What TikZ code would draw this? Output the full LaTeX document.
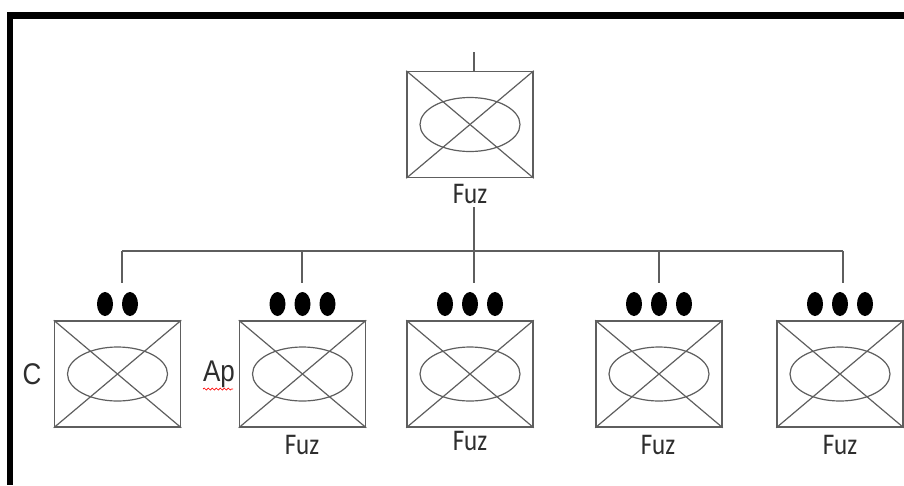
\documentclass[tikz,border=0pt]{standalone}
\usepackage{fontspec}
\setmainfont{Carlito}
\newfontfamily\arialf{Liberation Sans}
\usetikzlibrary{decorations.pathmorphing}
\definecolor{linegray}{HTML}{5E5E5E}
\definecolor{textdark}{HTML}{2E2E2E}
\begin{document}
\begin{tikzpicture}[x=1pt,y=-1pt,
  unitbox/.style={draw=linegray,line width=1.5pt,minimum width=126pt,minimum height=106pt,inner sep=0pt},
  wire/.style={draw=linegray,line width=1.2pt},
  thin/.style={draw=linegray,line width=1.2pt},
  dotmark/.style={fill=black},
  fuzlabel/.style={font=\fontsize{25}{25}\selectfont,text=textdark,inner sep=0pt,yscale=1.2},
  sidelabel/.style={font=\arialf\fontsize{26}{26}\selectfont,text=textdark,inner sep=0pt,yscale=1.15}
]
\useasboundingbox (0,0) rectangle (904,485);
% frame
\fill[black] (6.5,11.5) rectangle (904,18.5);
\fill[black] (6.5,11.5) rectangle (12.5,485);

% top unit
\node[unitbox] (top) at (470,124.5) {};
\node[fuzlabel] (toplbl) at (470,194) {Fuz};
\coordinate (topin) at (474,52);
\coordinate (topinend) at (474,72);
\coordinate (topout) at (474,207);
\coordinate (busmid) at (474,251);

% lower units
\foreach \n/\cx in {1/117.5,2/302.5,3/470,4/659,5/840}{
  \node[unitbox] (b\n) at (\cx,374) {};
}
\node[fuzlabel] (f2) at (302,445) {Fuz};
\node[fuzlabel] (f3) at (470,441) {Fuz};
\node[fuzlabel] (f4) at (658,445) {Fuz};
\node[fuzlabel] (f5) at (840,445) {Fuz};
\node[sidelabel] (lc) at (32,374) {C};
\node[sidelabel] (lap) at (219,374) {Ap};
\draw[red,line width=0.7pt,decorate,decoration={snake,segment length=4pt,amplitude=1pt}] (203,389) -- (233,389);

% crosses and ellipses
\foreach \b in {top,b1,b2,b3,b4,b5}{
  \draw[thin] (\b.north west) -- (\b.south east);
  \draw[thin] (\b.south west) -- (\b.north east);
  \draw[thin] (\b.center) ellipse [x radius=50pt, y radius=27pt];
}

% dots
\fill[dotmark] (105,304) ellipse [x radius=8pt, y radius=12pt];
\fill[dotmark] (130,304) ellipse [x radius=8pt, y radius=12pt];
\foreach \cx in {302.5,470,659,840}{
  \fill[dotmark] (\cx-25,304) ellipse [x radius=8pt, y radius=12pt];
  \fill[dotmark] (\cx,304) ellipse [x radius=8pt, y radius=12pt];
  \fill[dotmark] (\cx+25,304) ellipse [x radius=8pt, y radius=12pt];
}

% bus and drops
\coordinate (d1) at (122,251);
\coordinate (d2) at (302,251);
\coordinate (d3) at (474,251);
\coordinate (d4) at (659,251);
\coordinate (d5) at (843,251);
\coordinate (e1) at (122,283);
\coordinate (e2) at (302,283);
\coordinate (e3) at (474,283);
\coordinate (e4) at (659,283);
\coordinate (e5) at (843,283);
\draw[wire] (topin) -- (topinend);
\draw[wire] (topout) -- (busmid);
\draw[wire] (d1) -- (d5);
\foreach \i in {1,...,5}{\draw[wire] (d\i) -- (e\i);}
\end{tikzpicture}
\end{document}
